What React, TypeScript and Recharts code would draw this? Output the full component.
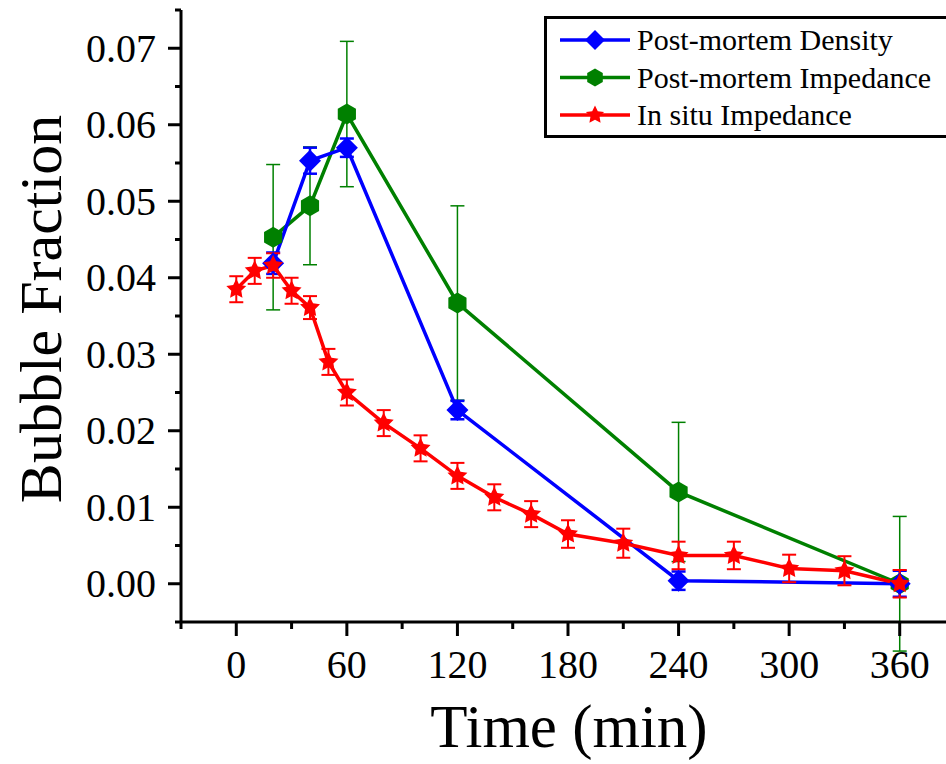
import { ComposedChart, ErrorBar, Label, Legend, Line, XAxis, YAxis } from 'recharts'

// Origin-style plot: pure primaries, thick black frame, Times-like serif.
const BLUE = '#0000ff'
const GREEN = '#008000'
const RED = '#ff0000'
const INK = '#000000'
const FONT = '"Liberation Serif", "Times New Roman", serif'

const postMortemTimes = [20, 40, 60, 120, 240, 360]
const densityValues = [0.0419, 0.0553, 0.057, 0.0227, 0.0004, 0.0]
const densityErrors = [0.0014, 0.0017, 0.0012, 0.0012, 0.0012, 0.0017]
const pmImpedanceValues = [0.0453, 0.0494, 0.0614, 0.0367, 0.012, 0.0]
const pmImpedanceErrors = [0.0095, 0.0077, 0.0095, 0.0127, 0.0091, 0.0088]

const inSituTimes = [0, 10, 20, 30, 40, 50, 60, 80, 100, 120, 140, 160, 180, 210, 240, 270, 300, 330, 360]
const inSituValues = [
  0.0385, 0.0409, 0.0416, 0.0383, 0.0361, 0.029, 0.025, 0.021, 0.0177, 0.0141, 0.0113, 0.0091, 0.0065,
  0.0053, 0.0037, 0.0037, 0.002, 0.0017, 0.0,
]
const inSituErrors = [
  0.0017, 0.0017, 0.0016, 0.0017, 0.0015, 0.0017, 0.0017, 0.0017, 0.0017, 0.0017, 0.0017, 0.0017, 0.0018,
  0.0019, 0.0018, 0.0018, 0.0018, 0.0019, 0.0018,
]

const xTicks = [-30, 0, 30, 60, 90, 120, 150, 180, 210, 240, 270, 300, 330, 360, 390]
const yTicks = [
  -0.005, 0, 0.005, 0.01, 0.015, 0.02, 0.025, 0.03, 0.035, 0.04, 0.045, 0.05, 0.055, 0.06, 0.065, 0.07, 0.075,
]

const seriesNames = ['Post-mortem Density', 'Post-mortem Impedance', 'In situ Impedance']

const toRows = (times: number[], values: number[], errors: number[]) =>
  times.map((time, i) => ({ time, value: values[i], error: errors[i] }))

const densityData = toRows(postMortemTimes, densityValues, densityErrors)
const pmImpedanceData = toRows(postMortemTimes, pmImpedanceValues, pmImpedanceErrors)
const inSituData = toRows(inSituTimes, inSituValues, inSituErrors)

function diamond(cx: number, cy: number, r: number, fill: string, key?: string | number) {
  return <polygon key={key} points={`${cx},${cy - r} ${cx + r},${cy} ${cx},${cy + r} ${cx - r},${cy}`} fill={fill} />
}

function hexagon(cx: number, cy: number, r: number, fill: string, key?: string | number) {
  const pts = []
  for (let i = 0; i < 6; i++) {
    const a = ((-90 + i * 60) * Math.PI) / 180
    pts.push(`${cx + r * Math.cos(a)},${cy + r * Math.sin(a)}`)
  }
  return <polygon key={key} points={pts.join(' ')} fill={fill} />
}

function star(cx: number, cy: number, r: number, fill: string, key?: string | number) {
  const pts = []
  for (let i = 0; i < 10; i++) {
    const a = ((-90 + i * 36) * Math.PI) / 180
    const rr = i % 2 === 0 ? r : r * 0.5
    pts.push(`${cx + rr * Math.cos(a)},${cy + rr * Math.sin(a)}`)
  }
  return <polygon key={key} points={pts.join(' ')} fill={fill} />
}

const isMajorY = (v: number) => Math.round(v * 1000) % 10 === 0
const isMajorX = (v: number) => v % 60 === 0

function YTick({ x, y, payload }: any) {
  const v = payload.value as number
  const major = isMajorY(v)
  return (
    <g>
      <line x1={x - (major ? 13 : 6)} x2={x} y1={y} y2={y} stroke={INK} strokeWidth={3} />
      {major && (
        <text x={x - 25} y={y + 13.5} textAnchor="end" fontFamily={FONT} fontSize={40} fill={INK}>
          {v.toFixed(2)}
        </text>
      )}
    </g>
  )
}

function XTick({ x, y, payload }: any) {
  const v = payload.value as number
  const major = isMajorX(v)
  return (
    <g>
      <line x1={x} x2={x} y1={y} y2={y + (major ? 14 : 7)} stroke={INK} strokeWidth={3} />
      {major && (
        <text x={x} y={y + 56} textAnchor="middle" fontFamily={FONT} fontSize={40} fill={INK}>
          {v}
        </text>
      )}
    </g>
  )
}

function LegendBox() {
  const shapes = [diamond, hexagon, star]
  const colors = [BLUE, GREEN, RED]
  const sizes = [10, 9, 9.5]
  return (
    <svg width={430} height={122} style={{ display: 'block' }}>
      <rect x={1.5} y={1.5} width={440} height={119} fill="#ffffff" stroke={INK} strokeWidth={3} />
      {seriesNames.map((name, i) => {
        const cy = 24 + i * 37.5
        return (
          <g key={name}>
            <line x1={16} x2={86} y1={cy} y2={cy} stroke={colors[i]} strokeWidth={3.5} />
            {shapes[i](51, cy, sizes[i], colors[i])}
            <text x={93} y={cy + 10} fontFamily={FONT} fontSize={30} fill={INK}>
              {name}
            </text>
          </g>
        )
      })}
    </svg>
  )
}

export default function App() {
  return (
    <div
      style={{
        position: 'absolute',
        left: 0,
        top: 0,
        width: 946,
        height: 764,
        overflow: 'hidden',
        background: '#ffffff',
      }}
    >
      <ComposedChart width={960} height={764} margin={{ top: 10, right: 5, bottom: 0, left: 0 }}>
        <XAxis
          xAxisId={0}
          dataKey="time"
          type="number"
          domain={[-30, 390]}
          ticks={xTicks}
          interval={0}
          height={142}
          tickSize={0}
          tickMargin={0}
          tickLine={false}
          axisLine={{ stroke: INK, strokeWidth: 3 }}
          tick={<XTick />}
          allowDataOverflow
        >
          <Label
            content={({ viewBox }: any) => (
              <text
                x={viewBox.x + viewBox.width / 2 + 1}
                y={viewBox.y + 125}
                textAnchor="middle"
                fontFamily={FONT}
                fontSize={61}
                fill={INK}
              >
                Time (min)
              </text>
            )}
          />
        </XAxis>
        <XAxis
          xAxisId="frame"
          orientation="top"
          type="number"
          domain={[-30, 390]}
          height={0}
          tick={false}
          tickLine={false}
          axisLine={{ stroke: INK, strokeWidth: 3 }}
        />
        <YAxis
          type="number"
          domain={[-0.005, 0.075]}
          ticks={yTicks}
          interval={0}
          width={181}
          tickSize={0}
          tickMargin={0}
          tickLine={false}
          axisLine={{ stroke: INK, strokeWidth: 3 }}
          tick={<YTick />}
          allowDataOverflow
        >
          <Label
            content={({ viewBox }: any) => (
              <text
                transform={`translate(61, ${viewBox.y + viewBox.height / 2 - 7}) rotate(-90)`}
                textAnchor="middle"
                fontFamily={FONT}
                fontSize={60}
                fill={INK}
              >
                Bubble Fraction
              </text>
            )}
          />
        </YAxis>
        <Legend
          layout="vertical"
          align="center"
          verticalAlign="middle"
          wrapperStyle={{ left: 544, top: 16, width: 430, height: 122 }}
          content={() => <LegendBox />}
        />
        <Line
          data={pmImpedanceData}
          dataKey="value"
          name={seriesNames[1]}
          stroke={GREEN}
          strokeWidth={3.5}
          dot={(p: any) => hexagon(p.cx, p.cy, 10.5, GREEN, `g-${p.index}`)}
          activeDot={false}
          isAnimationActive={false}
        >
          <ErrorBar dataKey="error" direction="y" width={7} stroke={GREEN} strokeWidth={1.5} isAnimationActive={false} />
        </Line>
        <Line
          data={densityData}
          dataKey="value"
          name={seriesNames[0]}
          stroke={BLUE}
          strokeWidth={3.5}
          dot={(p: any) => diamond(p.cx, p.cy, 11, BLUE, `b-${p.index}`)}
          activeDot={false}
          isAnimationActive={false}
        >
          <ErrorBar dataKey="error" direction="y" width={7} stroke={BLUE} strokeWidth={2.5} isAnimationActive={false} />
        </Line>
        <Line
          data={inSituData}
          dataKey="value"
          name={seriesNames[2]}
          stroke={RED}
          strokeWidth={3.5}
          dot={(p: any) => star(p.cx, p.cy, 10.5, RED, `r-${p.index}`)}
          activeDot={false}
          isAnimationActive={false}
        >
          <ErrorBar dataKey="error" direction="y" width={7} stroke={RED} strokeWidth={2} isAnimationActive={false} />
        </Line>
      </ComposedChart>
    </div>
  )
}
